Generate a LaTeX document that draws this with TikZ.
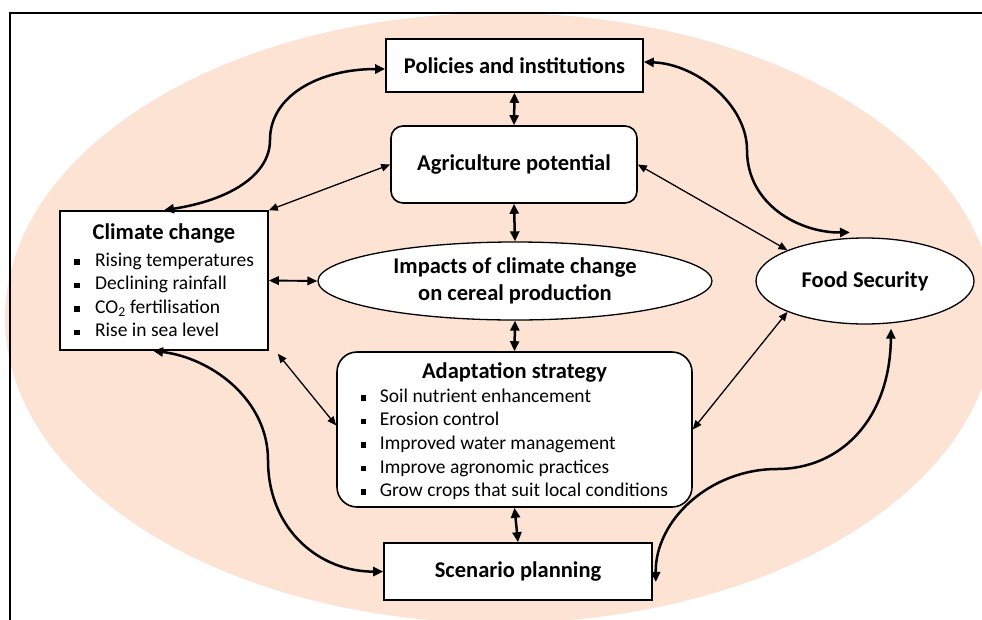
\documentclass[tikz,border=0pt]{standalone}
\usepackage{fontspec}
\setmainfont{Carlito}
\usetikzlibrary{shapes.geometric,arrows.meta,calc}
\definecolor{peach}{HTML}{FCE3D4}
\newcommand\tfont{\fontsize{22.5}{27}\selectfont\bfseries}
\newcommand\bfnt{\fontsize{19.5}{23.5}\selectfont}
\newcommand\sqbul[1]{\makebox[#1][l]{\rule[1.8pt]{5.5pt}{5.5pt}}}
\begin{document}
\begin{tikzpicture}[x=1pt,y=-1pt,
  box/.style={draw, line width=1.6pt, fill=white, inner sep=0pt, align=center},
  thk/.style={line width=2.5pt, {Triangle[length=10pt,width=9pt]}-{Triangle[length=10pt,width=9pt]}},
  mid/.style={line width=1.9pt, {Triangle[length=10pt,width=8.5pt]}-{Triangle[length=10pt,width=8.5pt]}},
  thn/.style={line width=1.3pt, {Triangle[length=9pt,width=7.5pt]}-{Triangle[length=9pt,width=7.5pt]}}]
\useasboundingbox (0,0) rectangle (982,619);
\begin{scope}
  \clip (0,0) rectangle (982,619);
  \fill[peach] (500,318) ellipse [x radius=495, y radius=305];
  \draw[line width=2.6pt] (10,660) -- (10,13) -- (1000,13);
\end{scope}

\node[box, minimum width=257pt, minimum height=53pt, font=\tfont] (pol) at (514.5,65.5) {Policies and institutions};
\node[box, rounded corners=12pt, minimum width=246pt, minimum height=77pt, font=\tfont] (agri) at (514,164.5) {Agriculture potential};
\node[box, minimum width=208pt, minimum height=139pt] (clim) at (164,280.5) {\bfnt\begin{tabular}{@{}l@{}}
\multicolumn{1}{@{}c@{}}{\tfont\rule{0pt}{22.5pt}Climate change}\\[3.5pt]
\sqbul{21pt}Rising temperatures\\
\sqbul{21pt}Declining rainfall\\
\sqbul{21pt}CO\textsubscript{2} fertilisation\\
\sqbul{21pt}Rise in sea level
\end{tabular}};
\node[box, ellipse, line width=1.3pt, minimum width=394pt, minimum height=78pt, font=\tfont] (imp) at (515,281) {Impacts of climate change\\on cereal production};
\node[box, ellipse, line width=1.3pt, minimum width=218pt, minimum height=86pt, font=\tfont] (food) at (865,281) {Food Security};
\node[box, rounded corners=20pt, minimum width=355pt, minimum height=155pt] (adap) at (514.5,429.5) {\fontsize{19.5}{23.6}\selectfont\begin{tabular}{@{}l@{}}
\multicolumn{1}{@{}c@{}}{\tfont\rule{0pt}{23.5pt}Adaptation strategy}\\
\sqbul{19pt}Soil nutrient enhancement\\
\sqbul{19pt}Erosion control\\
\sqbul{19pt}Improved water management\\
\sqbul{19pt}Improve agronomic practices\\
\sqbul{19pt}Grow crops that suit local conditions
\end{tabular}};
\node[box, minimum width=268pt, minimum height=57pt, font=\tfont] (scen) at (518,571.5) {Scenario planning};

\draw[thk] (pol.south) -- (agri.north);
\draw[thk] (agri.south) -- (imp.north);
\draw[thk] (imp.south) -- (adap.north);
\draw[thk] (adap.south) -- (scen.north);
\draw[mid] (clim.east) -- (imp.west);
\draw[thn] (clim.north east) -- (agri.west);
\draw[thn] ([xshift=9pt,yshift=-3pt]clim.south east) -- ([yshift=4pt]adap.west);
\draw[thn] (agri.east) -- (food.north west);
\draw[thn] (adap.east) -- (food.south west);

\draw[thk] (clim.north) .. controls (230,200) and (270,175) .. (270,140)
  .. controls (270,95) and (320,69) .. ([yshift=-3.5pt]pol.west);
\draw[thk] ([xshift=-11pt]clim.south) .. controls (212,358) and (268,400) .. (268,460)
  .. controls (268,530) and (320,572) .. (scen.west);
\draw[thk] ([yshift=3.5pt]pol.east) .. controls (697,64) and (747,105) .. (747,150)
  .. controls (747,205) and (800,233) .. ([xshift=-15pt,yshift=5pt]food.north);
\draw[thk] ([xshift=26pt,yshift=-4pt]food.south) .. controls (890,420) and (840,469) .. (777,469)
  .. controls (710,469) and (655,520) .. ([xshift=3pt,yshift=-10.5pt]scen.east);
\end{tikzpicture}
\end{document}
